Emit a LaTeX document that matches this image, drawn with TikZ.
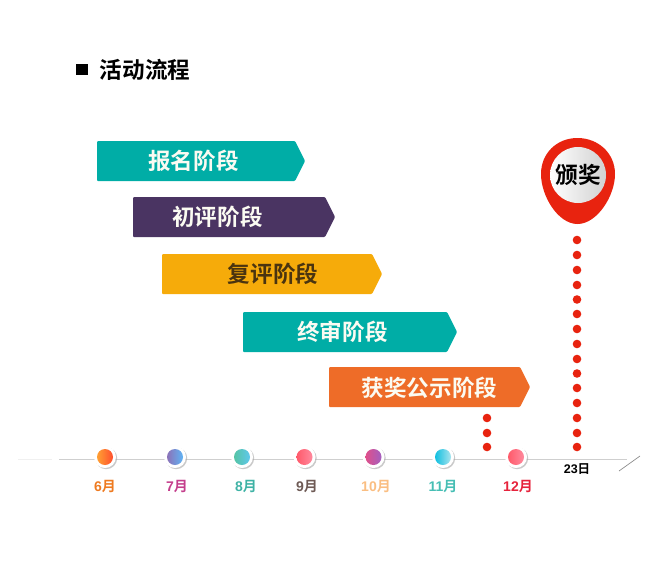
\documentclass[tikz,border=0pt]{standalone}
\usepackage{fontspec}
\setmainfont{Noto Sans CJK SC}[BoldFont={Noto Sans CJK SC Bold}]
\newfontfamily\latnf{Liberation Sans}[BoldFont={Liberation Sans Bold}]
\usetikzlibrary{shadows}
\definecolor{teal}{HTML}{00ADA6}
\definecolor{plum}{HTML}{4A3462}
\definecolor{amber}{HTML}{F6AB0A}
\definecolor{orng}{HTML}{EE6C28}
\definecolor{pinred}{HTML}{E8230F}
\definecolor{axisgr}{HTML}{CFCFCF}
\definecolor{barwhite}{HTML}{FBFBF2}
\definecolor{bardark}{HTML}{4A3410}
\tikzset{
  x=1pt,y=-1pt,
  bartext/.style={font=\fontsize{22.6}{22.6}\selectfont\bfseries,inner sep=0pt,anchor=center},
  halo/.style={circle,fill=white,minimum size=22pt,inner sep=0pt,draw=none,
     drop shadow={shadow xshift=1.2pt,shadow yshift=-1.2pt,fill=black!35,opacity=.6}},
  dotn/.style={circle,fill=pinred,minimum size=8.6pt,inner sep=0pt,draw=none},
  mon/.style={font=\fontsize{14}{14}\selectfont\bfseries\latnf,inner sep=0pt,anchor=center},
  mdisc/.style={circle,minimum size=16pt,inner sep=0pt,draw=none},
}
\newcommand{\stagebar}[4]{% x0, x1, ytop, colour
  \fill[#4,rounded corners=1pt] (#1,#3) -- (#2-10,#3) -- (#2,#3+20) -- (#2-10,#3+40) -- (#1,#3+40) -- cycle;
}
\newcommand{\monthdot}[4]{% name, x, left colour, right colour
  \node[halo] (#1) at (#2,457) {};
  \node[mdisc,left color=#3,right color=#4] (#1c) at (#2,457) {};
}
\definecolor{c6a}{HTML}{FFA033}\definecolor{c6b}{HTML}{FF4F2E}
\definecolor{c7a}{HTML}{8C72B8}\definecolor{c7b}{HTML}{5FB4F5}
\definecolor{c8a}{HTML}{55C4A5}\definecolor{c8b}{HTML}{5FC8EC}
\definecolor{c9a}{HTML}{FF5A6A}\definecolor{c9b}{HTML}{FF8A9E}
\definecolor{c10a}{HTML}{E0508A}\definecolor{c10b}{HTML}{A35FC0}
\definecolor{c11a}{HTML}{10BFE0}\definecolor{c11b}{HTML}{A9E4EE}
\begin{document}
\begin{tikzpicture}
\useasboundingbox (0,0) rectangle (650,565);
% title
\node[fill=black,minimum size=11.5pt,inner sep=0pt] (sq) at (82,69.5) {};
\node[font=\fontsize{22.6}{22.6}\selectfont\bfseries,inner sep=0pt,text=black] (title) at (145,69.5) {活动流程};
% bars
\stagebar{97}{305}{141}{teal}
\node[bartext,text=barwhite] (s1) at (193.5,161) {报名阶段};
\stagebar{133}{335}{197}{plum}
\node[bartext,text=barwhite] (s2) at (217.5,217) {初评阶段};
\stagebar{162}{382}{254}{amber}
\node[bartext,text=bardark] (s3) at (273,274) {复评阶段};
\stagebar{243}{457}{312}{teal}
\node[bartext,text=barwhite] (s4) at (342.5,332) {终审阶段};
\stagebar{329}{530}{367}{orng}
\node[bartext,text=barwhite] (s5) at (429.5,387.5) {获奖公示阶段};
% axis
\coordinate (a0) at (59,459.5);
\coordinate (a1) at (627,459.5);
\coordinate (t0) at (640,456);
\coordinate (t1) at (619,471);
\coordinate (f0) at (18,459.5);
\coordinate (f1) at (52,459.5);
\draw[axisgr,line width=.7pt] (a0) -- (a1);
\draw[black!6,line width=.5pt] (f0) -- (f1);
\draw[black!45,line width=.7pt] (t0) -- (t1);
% month dots
\monthdot{m6}{105}{c6a}{c6b}
\monthdot{m7}{175}{c7a}{c7b}
\monthdot{m8}{242}{c8a}{c8b}
\monthdot{m9}{304.5}{c9a}{c9b}
\monthdot{m10}{373.5}{c10a}{c10b}
\monthdot{m11}{443}{c11a}{c11b}
\monthdot{m12}{516}{c9a}{c9b}
\node[mon,text={rgb,255:red,238;green,122;blue,32}] (l6) at (105,486.5) {6\rmfamily\bfseries 月};
\node[mon,text={rgb,255:red,196;green,62;blue,140}] (l7) at (177,486.5) {7\rmfamily\bfseries 月};
\node[mon,text={rgb,255:red,62;green,178;blue,165}] (l8) at (246,486.5) {8\rmfamily\bfseries 月};
\node[mon,text={rgb,255:red,110;green,90;blue,85}] (l9) at (307,486.5) {9\rmfamily\bfseries 月};
\node[mon,text={rgb,255:red,250;green,190;blue,130}] (l10) at (376,486.5) {10\rmfamily\bfseries 月};
\node[mon,text={rgb,255:red,70;green,190;blue,180}] (l11) at (443,486.5) {11\rmfamily\bfseries 月};
\node[mon,text={rgb,255:red,230;green,35;blue,60}] (l12) at (518,486.5) {12\rmfamily\bfseries 月};
\node[mon,font=\fontsize{12.5}{12.5}\selectfont\bfseries\latnf,text=black] (l23) at (577,469) {23\rmfamily\bfseries 日};
% dots
\foreach \i/\y in {1/240,2/255,3/270,4/285,5/299.5,6/314,7/329,8/344,9/359,10/373.5,11/388,12/403,13/418,14/433,15/447}
  \node[dotn] (d\i) at (577,\y) {};
\foreach \i/\y in {1/418,2/433,3/447}
  \node[dotn] (e\i) at (487,\y) {};
% pin
\fill[pinred] (577.5,138) .. controls (598,138) and (615,153) .. (615,174)
  .. controls (615,196) and (597,224) .. (577.5,224)
  .. controls (558,224) and (541,196) .. (541,174)
  .. controls (541,153) and (557,138) .. (577.5,138) -- cycle;
\node[circle,minimum size=56pt,inner sep=0pt,left color=white,right color=black!18,
      font=\fontsize{22.6}{22.6}\selectfont\bfseries,text=black] (pin) at (578,175) {颁奖};
\end{tikzpicture}
\end{document}
